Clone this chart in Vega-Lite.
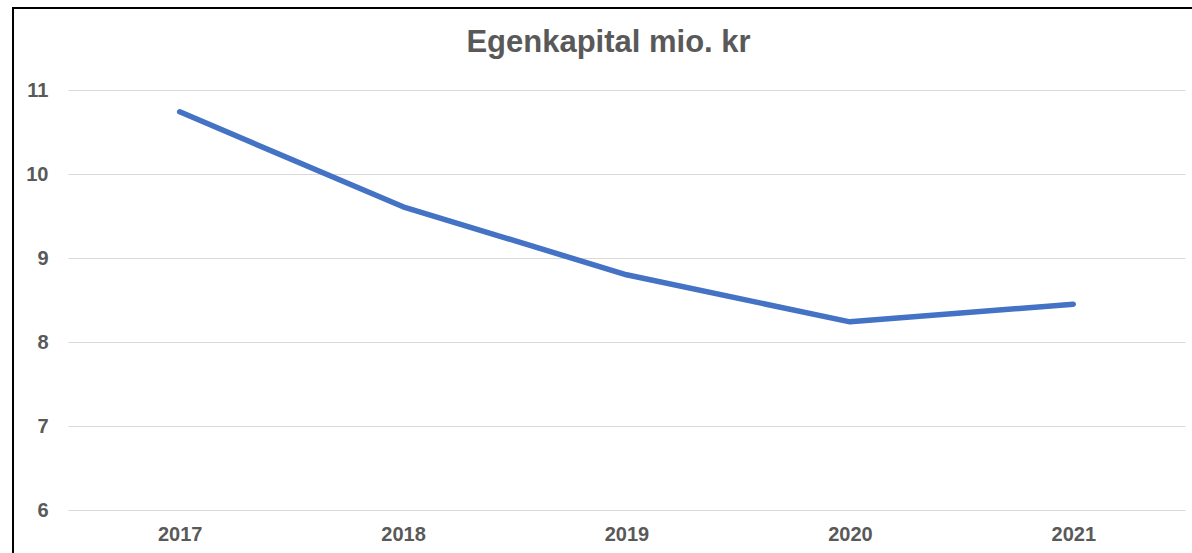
{
  "$schema": "https://vega.github.io/schema/vega-lite/v6.json",
  "autosize": {"type": "none"},
  "width": 1209,
  "height": 575,
  "padding": {"left": 13, "top": 8, "right": -30, "bottom": -30},
  "background": "white",
  "config": {
    "view": {"stroke": "black", "strokeWidth": 2},
    "font": "Liberation Sans"
  },
  "title": {
    "text": "Egenkapital mio. kr",
    "font": "Liberation Sans",
    "fontSize": 31,
    "fontWeight": "bold",
    "color": "#595959",
    "anchor": "middle",
    "frame": "group",
    "baseline": "alphabetic",
    "offset": -45,
    "dy": 30,
    "dx": -9
  },
  "data": {
    "values": [
      {"year": "2017", "value": 10.74},
      {"year": "2018", "value": 9.61},
      {"year": "2019", "value": 8.80},
      {"year": "2020", "value": 8.24},
      {"year": "2021", "value": 8.45}
    ]
  },
  "mark": {"type": "line", "color": "#4472C4", "strokeWidth": 5.5, "strokeCap": "round", "strokeJoin": "round"},
  "encoding": {
    "x": {
      "field": "year",
      "type": "ordinal",
      "scale": {"type": "point", "range": [55, 1172], "padding": 0.5},
      "axis": {
        "title": null,
        "domain": false,
        "ticks": false,
        "tickSize": 0,
        "grid": false,
        "labelAngle": 0,
        "labelFont": "Liberation Sans",
        "labelFontSize": 20,
        "labelFontWeight": "bold",
        "labelColor": "#595959",
        "labelBaseline": "alphabetic",
        "labelPadding": -43
      }
    },
    "y": {
      "field": "value",
      "type": "quantitative",
      "scale": {"domain": [6, 11], "range": [502, 82], "nice": false, "zero": false},
      "axis": {
        "title": null,
        "values": [6, 7, 8, 9, 10, 11],
        "domain": false,
        "ticks": false,
        "tickSize": 0,
        "grid": true,
        "gridColor": "#d9d9d9",
        "gridWidth": 1.2,
        "labelFont": "Liberation Sans",
        "labelFontSize": 20,
        "labelFontWeight": "bold",
        "labelColor": "#595959",
        "labelAlign": "right",
        "labelPadding": -35
      }
    }
  }
}
